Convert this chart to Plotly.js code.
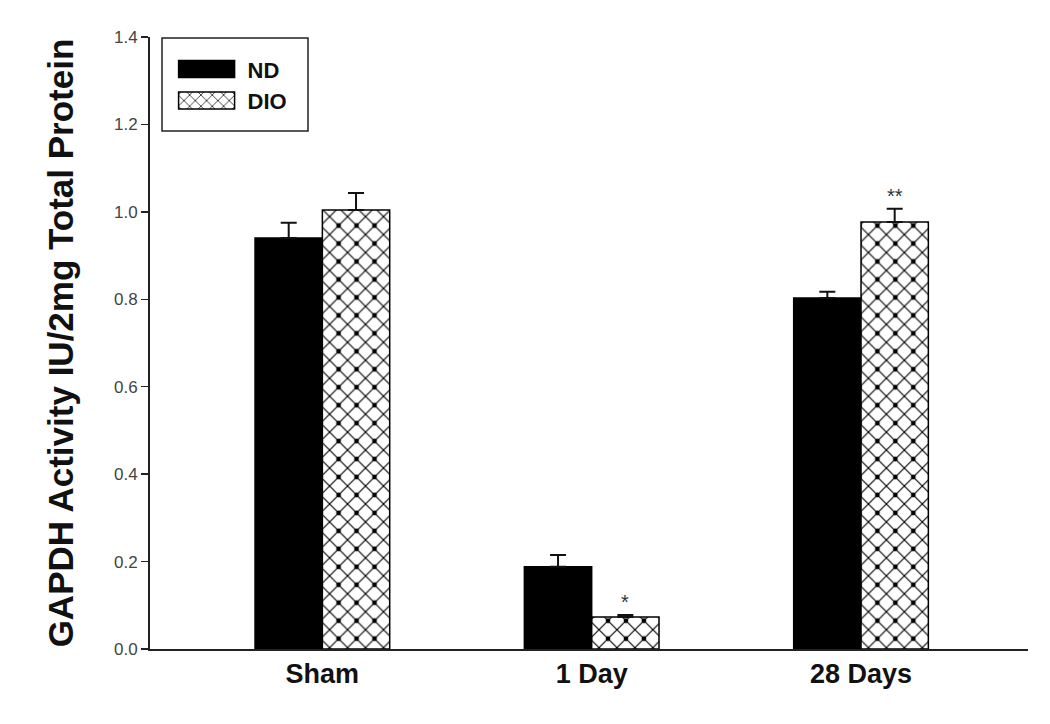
<!DOCTYPE html>
<html>
<head>
<meta charset="utf-8">
<script src="https://cdn.plot.ly/plotly-3.0.1.min.js"></script>
<style>html,body{margin:0;padding:0;background:#fff;}#chart{width:1050px;height:724px;}</style>
</head>
<body>
<div id="chart"></div>
<script>
// ---- data ----
const categories = ['Sham', '1 Day', '28 Days'];
const ndValues = [0.940, 0.188, 0.803];
const ndErrors = [0.035, 0.027, 0.014];
const dioValues = [1.004, 0.073, 0.977];
const dioErrors = [0.039, 0.005, 0.030];
const significance = ['', '*', '**'];
const yTickValues = [0, 0.2, 0.4, 0.6, 0.8, 1.0, 1.2, 1.4];
const seriesNames = ['ND', 'DIO'];

const FONT = 'Liberation Sans, Arial, sans-serif';
const BAR_W = 0.25;
const HATCH = 12.7;                 // diagonal hatch spacing
const DOT_TILE = HATCH * Math.SQRT2; // same tile as the 'x' pattern -> dots at crossings

const ndTrace = {
  type: 'bar', name: seriesNames[0], x: categories, y: ndValues,
  offset: -BAR_W, width: BAR_W,
  marker: {color: '#000', line: {color: '#000', width: 1.5}},
  error_y: {type: 'data', array: ndErrors, arrayminus: ndErrors.map(() => 0), symmetric: false,
            color: '#111', thickness: 2, width: 8},
  hoverinfo: 'x+y'
};
const dioTrace = {
  type: 'bar', name: seriesNames[1], x: categories, y: dioValues,
  offset: 0, width: BAR_W,
  marker: {color: '#fff', line: {color: '#000', width: 1.5},
           pattern: {shape: 'x', size: HATCH, solidity: 0.17, fgcolor: '#000', bgcolor: '#fff'}},
  error_y: {type: 'data', array: dioErrors, arrayminus: dioErrors.map(() => 0), symmetric: false,
            color: '#111', thickness: 2, width: 8},
  hoverinfo: 'x+y'
};
const dioDots = {
  type: 'bar', name: seriesNames[1], x: categories, y: dioValues,
  offset: 0, width: BAR_W, showlegend: false, hoverinfo: 'skip',
  marker: {color: 'rgba(0,0,0,0)', line: {width: 0},
           pattern: {shape: '.', size: DOT_TILE, solidity: 0.055, fgcolor: '#000', bgcolor: 'rgba(0,0,0,0)'}}
};

const annotations = significance.map((s, i) => ({
  text: s, x: i + BAR_W / 2, y: dioValues[i] + dioErrors[i], xref: 'x', yref: 'y',
  showarrow: false, yanchor: 'bottom', yshift: 0,
  font: {family: FONT, size: 20, color: '#333'}
})).filter(a => a.text);

const layout = {
  width: 1050, height: 724,
  margin: {l: 150, r: 22, t: 37, b: 75},
  paper_bgcolor: '#fff', plot_bgcolor: '#fff',
  barmode: 'overlay',
  showlegend: true,
  legend: {x: 0.0246, y: 0.9817, xanchor: 'left', yanchor: 'top', bgcolor: 'rgba(0,0,0,0)',
           borderwidth: 0, itemwidth: 60, font: {family: FONT, size: 22, color: '#111', weight: 'bold'},
           traceorder: 'normal'},
  xaxis: {type: 'category', range: [-0.64, 2.62], showline: true, linecolor: '#222', linewidth: 2,
          ticks: '', showgrid: false, zeroline: false, fixedrange: true,
          tickfont: {family: FONT, size: 27, color: '#111', weight: 'bold'}},
  yaxis: {range: [0, 1.4], tickvals: yTickValues, ticktext: yTickValues.map(v => v.toFixed(1)),
          showline: true, linecolor: '#222', linewidth: 2, ticks: 'outside', ticklen: 7, tickwidth: 1.5,
          tickcolor: '#222', showgrid: false, zeroline: false, fixedrange: true,
          tickfont: {family: FONT, size: 17, color: '#444'},
          title: {text: 'GAPDH Activity IU/2mg Total Protein', standoff: 30,
                  font: {family: FONT, size: 35, color: '#111', weight: 'bold'}}},
  shapes: [{type: 'rect', xref: 'paper', yref: 'paper', x0: 12 / 878, x1: 158 / 878,
            y0: 1 - 94 / 612, y1: 1 - 1 / 612, line: {color: '#222', width: 1.5}}],
  annotations: annotations
};

Plotly.newPlot('chart', [ndTrace, dioTrace, dioDots], layout, {staticPlot: true}).then(gd => {
  // enlarge legend swatches to wide rectangles
  gd.querySelectorAll('.legend .legendpoints path').forEach(p => {
    p.setAttribute('d', 'M28,8.5H-28V-8.5H28Z');
  });
  gd.querySelectorAll('.legend .legendtext').forEach(t => {
    t.setAttribute('transform', 'translate(6,0)');
  });
});
</script>
</body>
</html>
